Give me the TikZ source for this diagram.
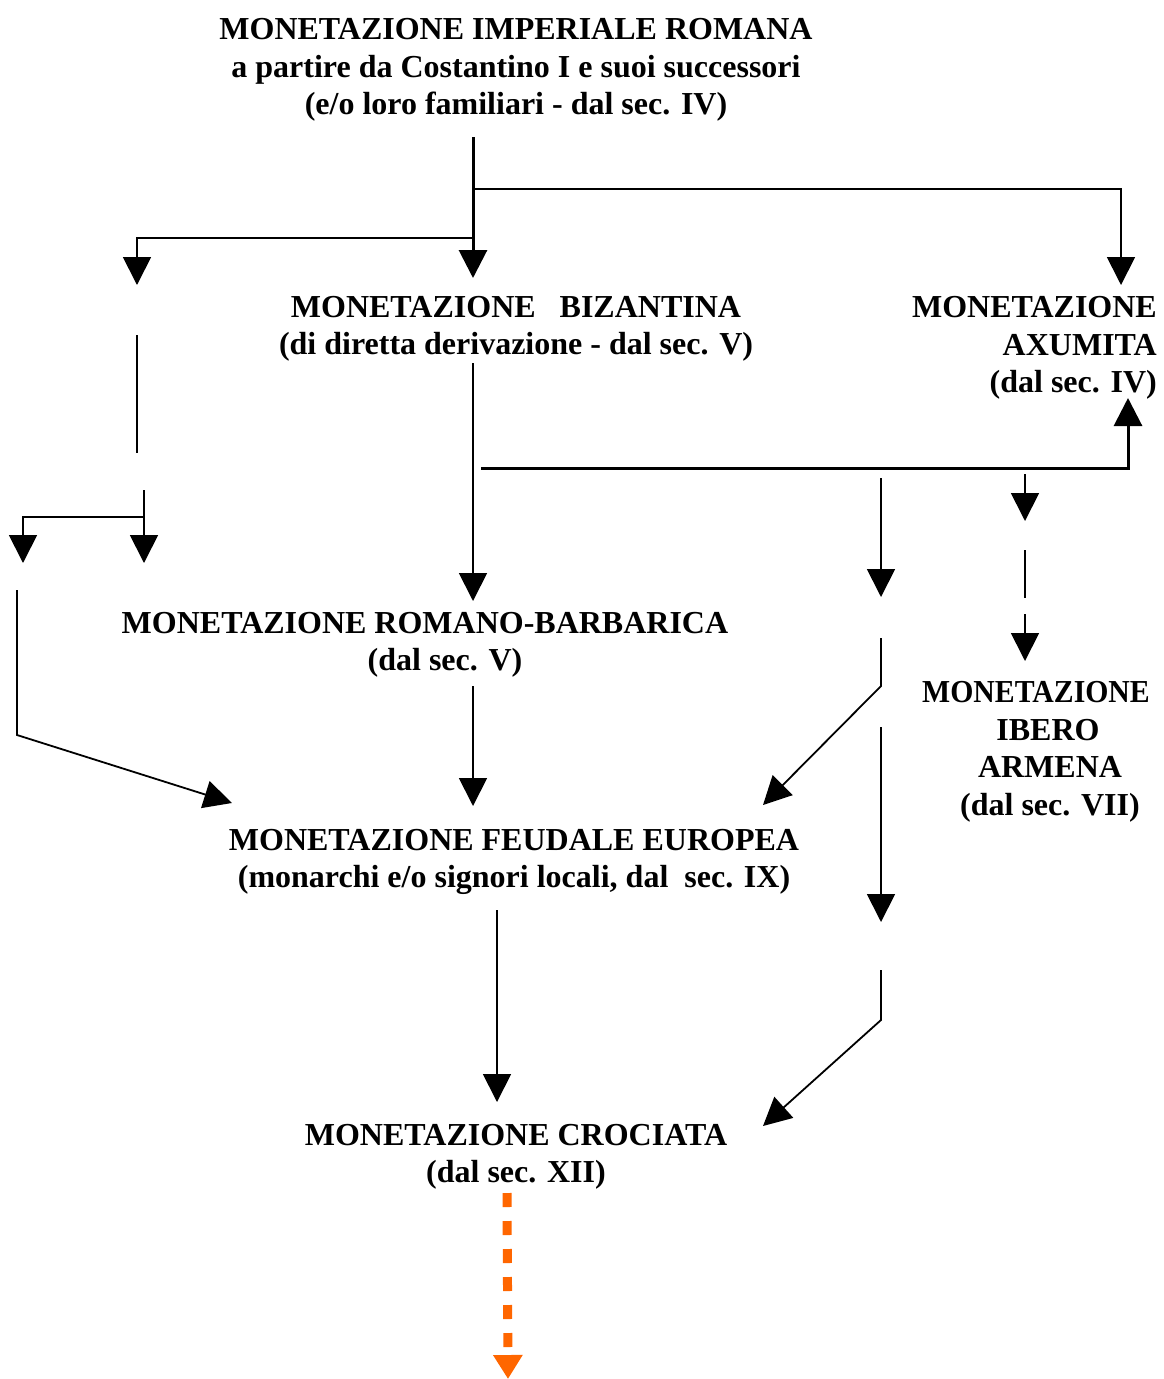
\documentclass[tikz,border=0pt]{standalone}
\usepackage{fontspec}
\setmainfont{Liberation Serif}
\usetikzlibrary{arrows.meta}
\begin{document}
\begin{tikzpicture}[x=1pt,y=-1pt,
  lbl/.style={font=\fontsize{32}{37.5}\selectfont\bfseries, align=center, inner sep=0pt},
  ln/.style={line width=1.8pt},
  thk/.style={line width=3pt},
  arr/.style={-{Triangle[width=28pt,length=28pt]}},
  orangearr/.style={line width=9pt, draw={rgb,255:red,255;green,102;blue,0}, dash pattern=on 14pt off 14pt,
     -{Triangle[width=28pt,length=24pt,fill={rgb,255:red,255;green,102;blue,0}]}}]
\useasboundingbox (0,0) rectangle (1163,1379);
\fill[white] (0,0) rectangle (1163,1379);

% text nodes
\node[lbl] (imp) at (516,70) {MONETAZIONE IMPERIALE ROMANA\\a partire da Costantino I e suoi successori\\(e/o loro familiari - dal sec. IV)};
\node[lbl] (biz) at (516,329) {MONETAZIONE\ \ \ BIZANTINA\\(di diretta derivazione - dal sec. V)};
\node[lbl, align=right, anchor=east] (axu) at (1157,348) {MONETAZIONE\\AXUMITA\\(dal sec. IV)};
\node[lbl] (rb) at (425,645) {MONETAZIONE ROMANO-BARBARICA\\\hspace*{40pt}(dal sec. V)};
\node[lbl] (feu) at (514,862) {MONETAZIONE FEUDALE EUROPEA\\(monarchi e/o signori locali, dal\ \ sec. IX)};
\node[lbl] (cro) at (516,1157) {MONETAZIONE CROCIATA\\(dal sec. XII)};
\node[lbl] (ibe) at (1050,752) {\hspace*{-28pt}\scalebox{0.93}[1]{MONETAZIONE}\\\hspace*{-4pt}IBERO\\ARMENA\\(dal sec. VII)};

% coordinates
\coordinate (t0) at (473,137);
\coordinate (t1) at (473,278);
\coordinate (j1) at (473,189);
\coordinate (axin) at (1121,285);
\coordinate (j2) at (473,238);
\coordinate (lt) at (137,285);
\coordinate (l1a) at (137,335);
\coordinate (l1b) at (137,453);
\coordinate (l2a) at (144,490);
\coordinate (l2b) at (144,563);
\coordinate (l3a) at (144,517);
\coordinate (l3b) at (23,563);
\coordinate (l4a) at (17,590);
\coordinate (l4b) at (17,735);
\coordinate (l4c) at (232,803);
\coordinate (bz0) at (473,363);
\coordinate (bz1) at (473,601);
\coordinate (h0) at (481,468);
\coordinate (h1) at (1128,398);
\coordinate (r1a) at (881,478);
\coordinate (r1b) at (881,597);
\coordinate (r2a) at (1025,474);
\coordinate (r2b) at (1025,521);
\coordinate (r3a) at (1025,550);
\coordinate (r3b) at (1025,598);
\coordinate (r4a) at (1025,614);
\coordinate (r4b) at (1025,661);
\coordinate (d1a) at (881,638);
\coordinate (d1b) at (881,686);
\coordinate (d1c) at (763,805);
\coordinate (v1a) at (881,727);
\coordinate (v1b) at (881,922);
\coordinate (d2a) at (881,970);
\coordinate (d2b) at (881,1020);
\coordinate (d2c) at (763,1126);
\coordinate (rb0) at (473,686);
\coordinate (rb1) at (473,806);
\coordinate (fe0) at (497,910);
\coordinate (fe1) at (497,1102);
\coordinate (or0) at (507,1193);
\coordinate (or1) at (508,1379);

% connectors
\draw[thk,arr] (t0) -- (t1);
\draw[ln,arr] (j1) -| (axin);
\draw[ln,arr] (j2) -| (lt);
\draw[ln] (l1a) -- (l1b);
\draw[ln,arr] (l2a) -- (l2b);
\draw[ln,arr] (l3a) -| (l3b);
\draw[ln,arr] (l4a) -- (l4b) -- (l4c);
\draw[ln,arr] (bz0) -- (bz1);
\draw[thk,arr] (h0) -| (h1);
\draw[ln,arr] (r1a) -- (r1b);
\draw[ln,arr] (r2a) -- (r2b);
\draw[ln] (r3a) -- (r3b);
\draw[ln,arr] (r4a) -- (r4b);
\draw[ln,arr] (d1a) -- (d1b) -- (d1c);
\draw[ln,arr] (v1a) -- (v1b);
\draw[ln,arr] (d2a) -- (d2b) -- (d2c);
\draw[ln,arr] (rb0) -- (rb1);
\draw[ln,arr] (fe0) -- (fe1);
\draw[orangearr] (or0) -- (or1);
\end{tikzpicture}
\end{document}
